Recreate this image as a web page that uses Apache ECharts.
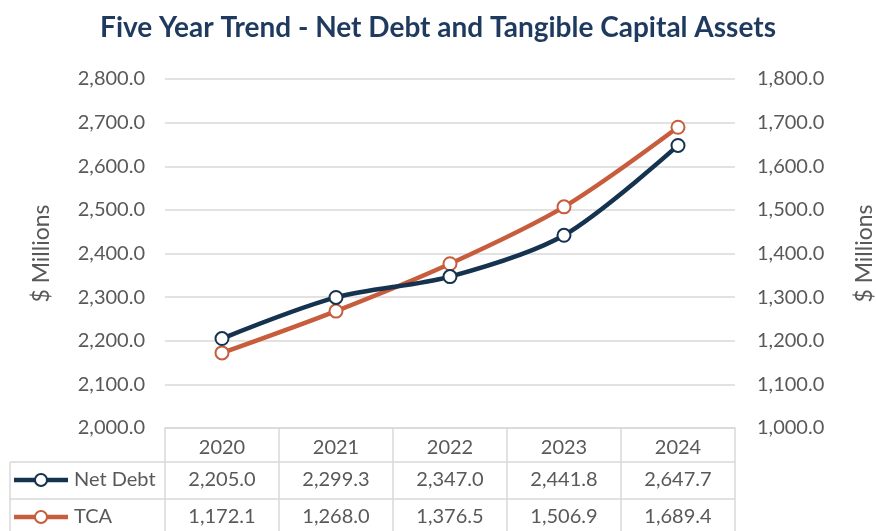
<!DOCTYPE html>
<html>
<head>
<meta charset="utf-8">
<script src="https://cdn.jsdelivr.net/npm/echarts@6/dist/echarts.min.js"></script>
<style>
  html, body { margin: 0; padding: 0; background: #ffffff; }
  #chart { width: 876px; height: 531px; }
</style>
</head>
<body>
<div id="chart"></div>
<script>
// Fiscal years shown on the category axis and in the data table header
const years = ['2020', '2021', '2022', '2023', '2024'];

// Net debt, $ millions (left axis)
const netDebt = [2205.0, 2299.3, 2347.0, 2441.8, 2647.7];

// Tangible capital assets, $ millions (right axis)
const tca = [1172.1, 1268.0, 1376.5, 1506.9, 1689.4];

// Series names as shown in the table's first column
const seriesNames = ['Net Debt', 'TCA'];

const NAVY = '#15324f';
const ORANGE = '#c75d3c';
const GRID = '#d9d9d9';
const TEXT = '#595959';
const FONT = 'Lato, "Open Sans", sans-serif';
const LABEL_SIZE = 20;

const fmt = v => v.toLocaleString('en-US', { minimumFractionDigits: 1, maximumFractionDigits: 1 });

const chart = echarts.init(document.getElementById('chart'), null, { renderer: 'canvas' });

const GRID_LEFT = 165, GRID_RIGHT = 141, GRID_TOP = 79, GRID_BOTTOM = 103;

const option = {
  animation: false,
  backgroundColor: '#ffffff',
  textStyle: { fontFamily: FONT },
  title: {
    text: 'Five Year Trend - Net Debt and Tangible Capital Assets',
    left: 'center',
    top: 9,
    textStyle: { fontFamily: FONT, fontSize: 28, fontWeight: 'bold', color: '#1f3a5f' }
  },
  grid: {
    left: GRID_LEFT, right: GRID_RIGHT, top: GRID_TOP, bottom: GRID_BOTTOM,
    containLabel: false, outerBoundsMode: 'none'
  },
  xAxis: {
    type: 'category',
    data: years,
    boundaryGap: true,
    axisLine: { show: true, lineStyle: { color: GRID, width: 1.5 } },
    axisTick: { show: true, length: 110, lineStyle: { color: GRID, width: 1.5 } },
    axisLabel: { color: TEXT, fontSize: LABEL_SIZE, fontFamily: FONT, margin: 10 },
    splitLine: { show: false }
  },
  yAxis: [
    {
      type: 'value',
      min: 2000, max: 2800, interval: 100,
      position: 'left',
      name: '$ Millions',
      nameLocation: 'middle',
      nameRotate: 90,
      nameGap: 112,
      nameTextStyle: { color: TEXT, fontSize: 23, fontFamily: FONT },
      axisLine: { show: false },
      axisTick: { show: false },
      axisLabel: { color: TEXT, fontSize: LABEL_SIZE, fontFamily: FONT, margin: 20, formatter: fmt },
      splitLine: { show: true, lineStyle: { color: GRID, width: 1.5 } }
    },
    {
      type: 'value',
      min: 1000, max: 1800, interval: 100,
      position: 'right',
      name: '$ Millions',
      nameLocation: 'middle',
      nameRotate: 90,
      nameGap: 118,
      nameTextStyle: { color: TEXT, fontSize: 23, fontFamily: FONT },
      axisLine: { show: false },
      axisTick: { show: false },
      axisLabel: { color: TEXT, fontSize: LABEL_SIZE, fontFamily: FONT, margin: 22, formatter: fmt },
      splitLine: { show: false }
    }
  ],
  series: [
    {
      name: seriesNames[0],
      type: 'line',
      yAxisIndex: 0,
      data: netDebt,
      smooth: 0.3,
      symbol: 'circle',
      symbolSize: 13,
      z: 3,
      lineStyle: { color: NAVY, width: 4.5 },
      itemStyle: { color: '#ffffff', borderColor: NAVY, borderWidth: 2 }
    },
    {
      name: seriesNames[1],
      type: 'line',
      yAxisIndex: 1,
      data: tca,
      smooth: 0.3,
      symbol: 'circle',
      symbolSize: 13,
      z: 2,
      lineStyle: { color: ORANGE, width: 4.5 },
      itemStyle: { color: '#ffffff', borderColor: ORANGE, borderWidth: 2 }
    }
  ]
};

chart.setOption(option);

// Data table beneath the plot: one row per series, one column per year
function buildTable() {
  const gridRect = chart.getModel().getComponent('grid').coordinateSystem.getRect();
  const right = gridRect.x + gridRect.width;
  const bottom = gridRect.y + gridRect.height;
  const rowTops = [bottom + 34, bottom + 71];
  const rowH = 36;
  const tableLeft = 10;
  const colors = [NAVY, ORANGE];
  const rows = [netDebt, tca];
  const els = [];

  // horizontal row separators across the full table
  rowTops.forEach(y => {
    els.push({ type: 'line', shape: { x1: tableLeft, y1: y, x2: right, y2: y },
      style: { stroke: GRID, lineWidth: 1.5 }, silent: true });
  });
  // outer left border of the legend column
  els.push({ type: 'line', shape: { x1: tableLeft, y1: rowTops[0], x2: tableLeft, y2: rowTops[1] + rowH + 10 },
    style: { stroke: GRID, lineWidth: 1.5 }, silent: true });

  rows.forEach((vals, r) => {
    const cy = rowTops[r] + rowH / 2;
    // legend key: line with open circle marker
    els.push({ type: 'line', shape: { x1: 14, y1: cy, x2: 68, y2: cy },
      style: { stroke: colors[r], lineWidth: 4.5 }, silent: true });
    els.push({ type: 'circle', shape: { cx: 41, cy: cy, r: 6 },
      style: { fill: '#ffffff', stroke: colors[r], lineWidth: 2 }, silent: true });
    els.push({ type: 'text', x: 74, y: cy,
      style: { text: seriesNames[r], fill: TEXT, font: LABEL_SIZE + 'px ' + FONT, textAlign: 'left', textVerticalAlign: 'middle' },
      silent: true });
    vals.forEach((v, i) => {
      const cx = chart.convertToPixel({ xAxisIndex: 0 }, i);
      els.push({ type: 'text', x: cx, y: cy,
        style: { text: fmt(v), fill: TEXT, font: LABEL_SIZE + 'px ' + FONT, textAlign: 'center', textVerticalAlign: 'middle' },
        silent: true });
    });
  });
  chart.setOption({ graphic: els });
}
buildTable();
</script>
</body>
</html>
